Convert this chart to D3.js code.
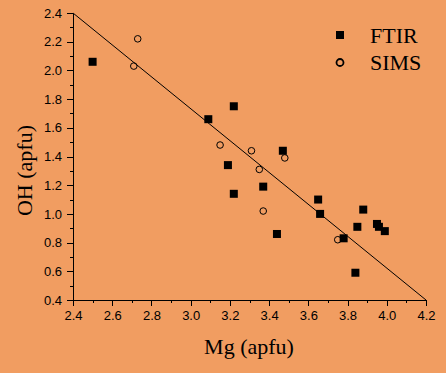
<!DOCTYPE html>
<html>
<head>
<meta charset="utf-8">
<script src="https://cdn.jsdelivr.net/npm/d3@7"></script>
<style>
  html, body { margin: 0; padding: 0; background: #f19d61; }
  svg { display: block; }
  .tick text { font-family: "Liberation Sans", Arial, sans-serif; font-size: 13px; fill: #000; }
  .axis path, .axis line { stroke: #000; stroke-width: 1; shape-rendering: crispEdges; }
  .label { font-family: "Liberation Serif", "Times New Roman", serif; font-size: 22px; fill: #000; }
</style>
</head>
<body>
<div id="chart"></div>
<script>
// FTIR measurements: Mg (apfu) vs OH (apfu)
const ftirMg = [2.50, 3.09, 3.22, 3.19, 3.47, 3.37, 3.22, 3.44, 3.65, 3.66, 3.88, 3.85, 3.95, 3.96, 3.99, 3.78, 3.84];
const ftirOH = [2.06, 1.66, 1.75, 1.34, 1.44, 1.19, 1.14, 0.86, 1.10, 1.00, 1.03, 0.91, 0.93, 0.91, 0.88, 0.83, 0.59];

// SIMS measurements
const simsMg = [2.73, 2.71, 3.15, 3.31, 3.48, 3.35, 3.37, 3.75];
const simsOH = [2.22, 2.03, 1.48, 1.44, 1.39, 1.31, 1.02, 0.82];

// reference line end points
const lineMg = [2.4, 4.2];
const lineOH = [2.4, 0.4];

const xTicks = [2.4, 2.6, 2.8, 3.0, 3.2, 3.4, 3.6, 3.8, 4.0, 4.2];
const yTicks = [0.4, 0.6, 0.8, 1.0, 1.2, 1.4, 1.6, 1.8, 2.0, 2.2, 2.4];

const width = 446, height = 373;
const margin = { top: 13, right: 20, bottom: 73, left: 73 };

const svg = d3.select('#chart').append('svg')
  .attr('width', width)
  .attr('height', height);

svg.append('rect')
  .attr('width', width)
  .attr('height', height)
  .attr('fill', '#f19d61');

const x = d3.scaleLinear().domain([2.4, 4.2]).range([margin.left, width - margin.right]);
const y = d3.scaleLinear().domain([0.4, 2.4]).range([height - margin.bottom, margin.top]);

// minor ticks
const xMinor = d3.range(2.4, 4.2001, 0.1);
const yMinor = d3.range(0.4, 2.4001, 0.1);

svg.append('g')
  .attr('class', 'axis')
  .attr('transform', `translate(0,${y(0.4)})`)
  .call(d3.axisBottom(x).tickValues(xMinor).tickSize(3).tickFormat(''))
  .call(g => g.select('.domain').remove());

svg.append('g')
  .attr('class', 'axis')
  .attr('transform', `translate(${x(2.4)},0)`)
  .call(d3.axisLeft(y).tickValues(yMinor).tickSize(3).tickFormat(''))
  .call(g => g.select('.domain').remove());

// major axes
svg.append('g')
  .attr('class', 'axis')
  .attr('transform', `translate(0,${y(0.4)})`)
  .call(d3.axisBottom(x).tickValues(xTicks).tickSize(6).tickSizeOuter(0).tickPadding(5).tickFormat(d3.format('.1f')));

svg.append('g')
  .attr('class', 'axis')
  .attr('transform', `translate(${x(2.4)},0)`)
  .call(d3.axisLeft(y).tickValues(yTicks).tickSize(6).tickSizeOuter(0).tickPadding(5).tickFormat(d3.format('.1f')));

// fit line
svg.append('line')
  .attr('x1', x(lineMg[0])).attr('y1', y(lineOH[0]))
  .attr('x2', x(lineMg[1])).attr('y2', y(lineOH[1]))
  .attr('stroke', '#000')
  .attr('stroke-width', 1);

// FTIR squares
const sq = 8;
svg.selectAll('.ftir')
  .data(ftirMg.map((m, i) => ({ mg: m, oh: ftirOH[i] })))
  .enter().append('rect')
  .attr('class', 'ftir')
  .attr('x', d => x(d.mg) - sq / 2)
  .attr('y', d => y(d.oh) - sq / 2)
  .attr('width', sq)
  .attr('height', sq)
  .attr('fill', '#000');

// SIMS circles
svg.selectAll('.sims')
  .data(simsMg.map((m, i) => ({ mg: m, oh: simsOH[i] })))
  .enter().append('circle')
  .attr('class', 'sims')
  .attr('cx', d => x(d.mg))
  .attr('cy', d => y(d.oh))
  .attr('r', 3.3)
  .attr('fill', 'none')
  .attr('stroke', '#000')
  .attr('stroke-width', 1);

// legend
svg.append('rect')
  .attr('x', 336).attr('y', 31)
  .attr('width', 8).attr('height', 8)
  .attr('fill', '#000');
svg.append('text')
  .attr('class', 'label')
  .attr('x', 370).attr('y', 43)
  .text('FTIR');
svg.append('circle')
  .attr('cx', 340).attr('cy', 62.5)
  .attr('r', 3.5)
  .attr('fill', 'none')
  .attr('stroke', '#000')
  .attr('stroke-width', 1.8);
svg.append('text')
  .attr('class', 'label')
  .attr('x', 370).attr('y', 70)
  .text('SIMS');

// axis labels
svg.append('text')
  .attr('class', 'label')
  .attr('x', 249).attr('y', 354)
  .attr('text-anchor', 'middle')
  .text('Mg (apfu)');

svg.append('text')
  .attr('class', 'label')
  .attr('transform', 'translate(32,170.5) rotate(-90)')
  .attr('text-anchor', 'middle')
  .text('OH (apfu)');
</script>
</body>
</html>
